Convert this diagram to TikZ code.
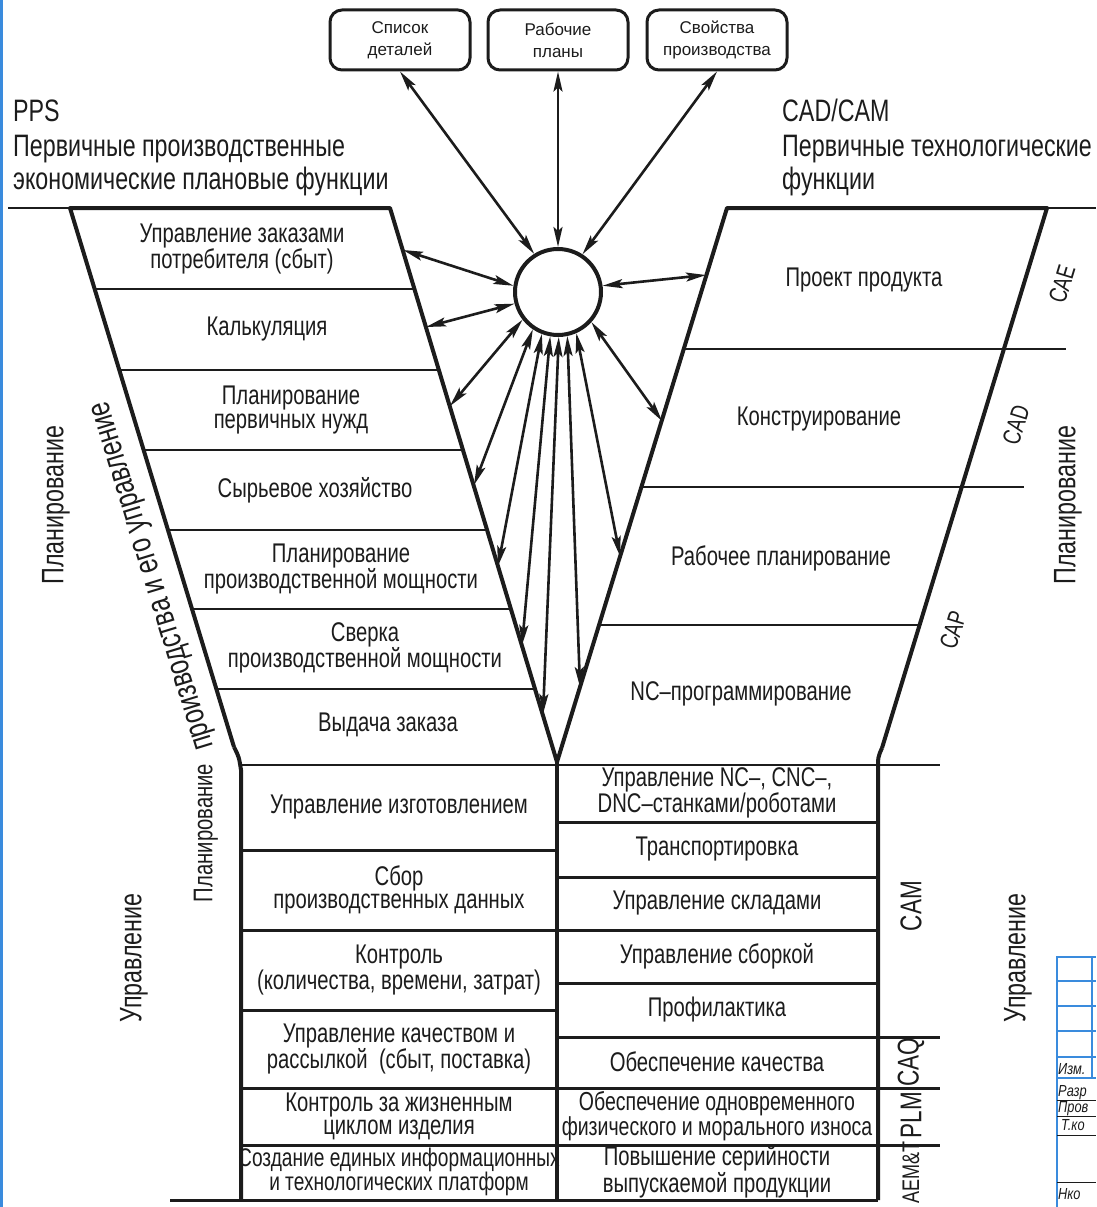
\documentclass[tikz,border=0pt]{standalone}
\usepackage{fontspec}
\setmainfont{Liberation Sans}[FakeStretch=0.75]
\newfontfamily\boxfont{Liberation Sans}[FakeStretch=1.0]
\newfontfamily\stampfont{Liberation Sans}[FakeStretch=0.8]
\usetikzlibrary{arrows.meta}
\definecolor{ink}{HTML}{1C1C1C}
\definecolor{frameblue}{HTML}{3A8BDD}
\tikzset{
  lbl/.style={font=\fontsize{27}{24}\selectfont, align=center, inner sep=0pt, text=ink},
  lowlbl/.style={font=\fontsize{27}{23}\selectfont, align=center, inner sep=0pt, text=ink},
  toplbl/.style={font=\fontsize{31}{34}\selectfont, inner sep=0pt, text=ink, anchor=base west},
  boxlbl/.style={draw=ink, line width=3pt, rounded corners=12pt, minimum width=140pt, minimum height=60pt, inner sep=0pt, align=center, font=\boxfont\fontsize{17}{22}\selectfont, text=ink},
  hub/.style={circle, draw=ink, line width=4pt, minimum size=86pt, inner sep=0pt},
  vlbl/.style={font=\fontsize{27}{27}\selectfont, inner sep=0pt, text=ink, rotate=90},
  biglbl/.style={font=\fontsize{31}{31}\selectfont, inner sep=0pt, text=ink, rotate=90},
  tag/.style={font=\fontsize{25}{25}\selectfont, inner sep=0pt, text=ink},
  coltag/.style={font=\fontsize{30}{30}\selectfont, inner sep=0pt, text=ink, rotate=90},
  side/.style={draw=ink, line width=4pt, line join=round},
  rowline/.style={draw=ink, line width=2pt},
  cellline/.style={draw=ink, line width=3pt},
  biarrow/.style={{Stealth[length=20pt,width=9pt,inset=4pt]}-{Stealth[length=20pt,width=9pt,inset=4pt]}, line width=2.6pt, draw=ink},
  stampline/.style={draw=frameblue, line width=2pt},
  stampthin/.style={draw=ink, line width=1pt},
  stamptext/.style={font=\stampfont\itshape\fontsize{16}{16}\selectfont, inner sep=0pt, anchor=base west, text=ink},
}
\begin{document}
\begin{tikzpicture}[x=1pt,y=-1pt]
\clip (0,0) rectangle (1096,1207);
\fill[white] (0,0) rectangle (1096,1207);
\fill[frameblue] (0,0) rectangle (3,1207);

% top boxes and hub
\node[boxlbl] (b1) at (400,40) {Список\\деталей};
\node[boxlbl] (b2) at (558,40) {Рабочие\\планы};
\node[boxlbl] (b3) at (717,40) {Свойства\\производства};
\node[hub] (c) at (558,292) {};

% heading labels
\node[toplbl] (pps) at (13,121) {PPS};
\node[toplbl] (pps1) at (13,156) {Первичные производственные};
\node[toplbl] (pps2) at (13,189) {экономические плановые функции};
\node[toplbl] (cad) at (782,121) {CAD/CAM};
\node[toplbl] (cad1) at (782,156) {Первичные технологические};
\node[toplbl] (cad2) at (782,189) {функции};

% funnel outlines
\draw[rowline] (8,208) -- (70,208);
\draw[rowline] (1047,208) -- (1096,208);
\draw[side] (234,747) -- (70,208) -- (390,208) -- (557,762) -- (727,208) -- (1047,208) -- (882,748);
\draw[side] (234,747) .. controls (239,757) .. (241,770) -- (241,1200);
\draw[side] (882,748) .. controls (878,757) .. (878,770) -- (878,1200);
\draw[side] (557,762) -- (557,1200);

% left funnel dividers
\foreach \y in {289,370,450,530,609,689}
  \draw[rowline] ({70+0.3043*(\y-208)},\y) -- ({390+0.3014*(\y-208)},\y);
% right funnel dividers
\draw[rowline] (683.7,349) -- (1066,349);
\draw[rowline] (641.3,487) -- (1024,487);
\draw[rowline] (599,625) -- (919.6,625);

% lower table
\draw[rowline] (241,765) -- (940,765);
\foreach \y in {850,930,1010} \draw[cellline] (241,\y) -- (557,\y);
\foreach \y in {822,877,930,983} \draw[cellline] (557,\y) -- (878,\y);
\draw[cellline] (557,1037) -- (940,1037);
\foreach \y in {1088,1145} \draw[cellline] (241,\y) -- (940,\y);
\draw[cellline] (170,1200) -- (878,1200);

% arrow end points
\coordinate (a1) at (403,250);
\coordinate (a2) at (426,327);
\coordinate (a3) at (450,406);
\coordinate (a4) at (474,485);
\coordinate (a5) at (498,566);
\coordinate (a6) at (522,645);
\coordinate (a7) at (543,714);
\coordinate (p1) at (706,275);
\coordinate (p2) at (662,421);
\coordinate (p3) at (620,556);
\coordinate (p4) at (580,687);

\draw[biarrow] (c.122) -- (b1.south);
\draw[biarrow] (c.90) -- (b2.south);
\draw[biarrow] (c.57) -- (b3.south);
\draw[biarrow] (c.172) -- (a1);
\draw[biarrow] (c.195) -- (a2);
\draw[biarrow] (c.218) -- (a3);
\draw[biarrow] (c.236) -- (a4);
\draw[biarrow] (c.249) -- (a5);
\draw[biarrow] (c.260) -- (a6);
\draw[biarrow] (c.271) -- (a7);
\draw[biarrow] (c.282) -- (p4);
\draw[biarrow] (c.294) -- (p3);
\draw[biarrow] (c.318) -- (p2);
\draw[biarrow] (c.8) -- (p1);

% left funnel texts
\node[lbl] (l1) at (242,249) {Управление заказами\\потребителя (сбыт)};
\node[lbl] (l2) at (267,329) {Калькуляция};
\node[lbl] (l3) at (291,410) {Планирование\\первичных нужд};
\node[lbl] (l4) at (315,490) {Сырьевое хозяйство};
\node[lbl] (l5) at (341,569) {Планирование\\производственной мощности};
\node[lbl] (l6) at (365,648) {Сверка\\производственной мощности};
\node[lbl] (l7) at (388,725) {Выдача заказа};

% right funnel texts
\node[lbl] (r1) at (864,280) {Проект продукта};
\node[lbl] (r2) at (819,419) {Конструирование};
\node[lbl] (r3) at (781,558) {Рабочее планирование};
\node[lbl] (r4) at (741,694) {NC–программирование};

% lower texts
\node[lowlbl] (m1) at (399,807) {Управление изготовлением};
\node[lowlbl] (m2) at (399,890) {Сбор\\производственных данных};
\node[lowlbl] (m3) at (399,970) {Контроль\\(количества, времени, затрат)};
\node[lowlbl] (m4) at (399,1049) {Управление качеством и\\рассылкой \ (сбыт, поставка)};
\node[lowlbl] (m5) at (399,1116) {Контроль за жизненным\\циклом изделия};
\node[lowlbl, font=\fontsize{25.5}{23}\selectfont] (m6) at (399,1172) {Создание единых информационных\\и технологических платформ};
\node[lowlbl] (n1) at (717,793) {Управление NC–, CNC–,\\DNC–станками/роботами};
\node[lowlbl] (n2) at (717,849) {Транспортировка};
\node[lowlbl] (n3) at (717,903) {Управление складами};
\node[lowlbl] (n4) at (717,956) {Управление сборкой};
\node[lowlbl] (n5) at (717,1010) {Профилактика};
\node[lowlbl] (n6) at (717,1062) {Обеспечение качества};
\node[lowlbl, font=\fontsize{26}{23}\selectfont] (n7) at (717,1116) {Обеспечение одновременного\\физического и морального износа};
\node[lowlbl] (n8) at (717,1172) {Повышение серийности\\выпускаемой продукции};

% vertical labels
\node[biglbl] (v1) at (56,505) {Планирование};
\node[biglbl] (v2) at (1068,505) {Планирование};
\node[biglbl] (v3) at (134,958) {Управление};
\node[biglbl] (v4) at (1018,958) {Управление};
\node[vlbl] (v5) at (206,833) {Планирование};
\node[lbl, font=\fontsize{33}{33}\selectfont, rotate=107] (v6) at (155,575) {производства и его управление};

% system tags
\node[tag, rotate=73] (t1) at (1062,284) {CAE};
\node[tag, rotate=73] (t2) at (1016,425) {CAD};
\node[tag, rotate=73] (t3) at (953,630) {CAP};
\node[coltag] (t4) at (911,906) {CAM};
\node[coltag] (t5) at (911,1062) {CAQ};
\node[coltag] (t6) at (911,1115) {PLM};
\node[coltag, font=\fontsize{24}{24}\selectfont] (t7) at (911,1172) {AEM\&T};

% title block fragment
\draw[stampline] (1057,1207) -- (1057,957) -- (1096,957);
\foreach \y in {981,1006,1031,1057,1078} \draw[stampline] (1057,\y) -- (1096,\y);
\draw[stampline] (1092,957) -- (1092,1078);
\foreach \y in {1100,1116,1135,1182} \draw[stampthin] (1057,\y) -- (1096,\y);
\node[stamptext] (s1) at (1058,1074) {Изм.};
\node[stamptext] (s2) at (1058,1096) {Разр};
\node[stamptext] (s3) at (1058,1112) {Пров};
\node[stamptext] (s4) at (1061,1130) {Т.ко};
\node[stamptext] (s5) at (1058,1199) {Нко};
\end{tikzpicture}
\end{document}
